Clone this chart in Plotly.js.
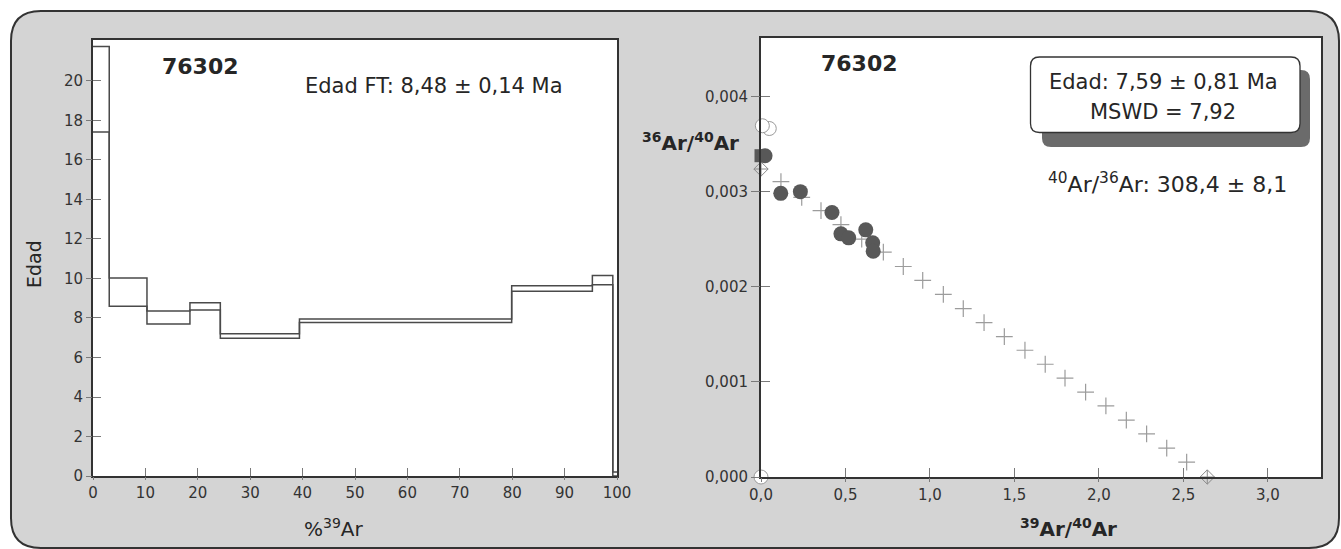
<!DOCTYPE html>
<html>
<head>
<meta charset="utf-8">
<script src="https://cdn.plot.ly/plotly-3.0.1.min.js"></script>
<style>html,body{margin:0;padding:0;background:#fff;}#chart{width:1341px;height:549px;}</style>
</head>
<body>
<div id="chart"></div>
<script>
// ---------- Data: age spectrum (left) ----------
var stepEdges  = [0, 3.1, 10.3, 18.5, 24.3, 39.4, 79.9, 95.3, 99.2, 100];
var stepUpper  = [21.75, 10.03, 8.35, 8.77, 7.2, 7.95, 9.63, 10.15, 0.2];
var stepLower  = [17.42, 8.6, 7.7, 8.4, 6.98, 7.77, 9.36, 9.68, 0.0];
var leftXTicks = [0, 10, 20, 30, 40, 50, 60, 70, 80, 90, 100];
var leftYTicks = [0, 2, 4, 6, 8, 10, 12, 14, 16, 18, 20];

// ---------- Data: isochron (right) ----------
var crossX = [0.118, 0.241, 0.355, 0.473, 0.596, 0.724, 0.842, 0.957, 1.079, 1.197, 1.320,
              1.440, 1.562, 1.682, 1.799, 1.921, 2.041, 2.162, 2.282, 2.401, 2.519];
var crossY = [0.003106, 0.002941, 0.002802, 0.002655, 0.002501, 0.002364, 0.002214, 0.002067,
              0.001920, 0.001770, 0.001623, 0.001476, 0.001333, 0.001186, 0.001039, 0.000892,
              0.000748, 0.000598, 0.000454, 0.000304, 0.000157];
var interceptX = [0.0, 2.641];
var interceptY = [0.003239, 0.0];
var filledX = [0.024, 0.117, 0.233, 0.420, 0.473, 0.519, 0.620, 0.661, 0.664];
var filledY = [0.003379, 0.002983, 0.003001, 0.002781, 0.002557, 0.002515, 0.002599, 0.002463, 0.002375];
var squareX = [0.0];
var squareY = [0.003379];
var openX = [0.049, 0.008, 0.0];
var openY = [0.003665, 0.003694, 0.0];
var rightXTicks = [0, 0.5, 1.0, 1.5, 2.0, 2.5, 3.0];
var rightYTicks = [0, 0.001, 0.002, 0.003, 0.004];

var sampleLabel = '76302';
var ftAgeText = 'Edad FT: 8,48 ± 0,14 Ma';
var isoAgeText = 'Edad: 7,59 ± 0,81 Ma';
var mswdText = 'MSWD = 7,92';
var ratioText = '<sup>40</sup>Ar/<sup>36</sup>Ar: 308,4 ± 8,1';

// ---------- helpers ----------
var W = 1341, H = 549;
function px(x){ return x / W; }
function py(y){ return 1 - y / H; }
function rr(x0, y0, x1, y1, r){
  function P(x, y){ return px(x).toFixed(5) + ',' + py(y).toFixed(5); }
  return 'M' + P(x0 + r, y0) + ' L' + P(x1 - r, y0) + ' Q' + P(x1, y0) + ' ' + P(x1, y0 + r) +
         ' L' + P(x1, y1 - r) + ' Q' + P(x1, y1) + ' ' + P(x1 - r, y1) +
         ' L' + P(x0 + r, y1) + ' Q' + P(x0, y1) + ' ' + P(x0, y1 - r) +
         ' L' + P(x0, y0 + r) + ' Q' + P(x0, y0) + ' ' + P(x0 + r, y0) + ' Z';
}
function stepTrace(vals){
  return {
    x: stepEdges.slice(),
    y: vals.concat([vals[vals.length - 1]]),
    type: 'scatter', mode: 'lines', line: {shape: 'hv', color: '#4a4a4a', width: 1.5},
    xaxis: 'x', yaxis: 'y', hoverinfo: 'skip', showlegend: false
  };
}

var FONT = 'DejaVu Sans, Verdana, sans-serif';
var TXT = '#262626';

var traces = [
  stepTrace(stepUpper),
  stepTrace(stepLower),
  {x: [], y: [], xaxis: 'x3', yaxis: 'y3', type: 'scatter', mode: 'markers', showlegend: false, hoverinfo: 'skip'},
  {x: crossX, y: crossY, xaxis: 'x2', yaxis: 'y2', type: 'scatter', mode: 'markers', cliponaxis: false,
   marker: {symbol: 'cross-thin-open', size: 12, color: '#9c9c9c', line: {color: '#9c9c9c', width: 1.2}}, showlegend: false},
  {x: interceptX, y: interceptY, xaxis: 'x2', yaxis: 'y2', type: 'scatter', mode: 'markers', cliponaxis: false,
   marker: {symbol: 'diamond-cross-open', size: 11, color: '#8a8a8a', line: {color: '#8a8a8a', width: 1}}, showlegend: false},
  {x: squareX, y: squareY, xaxis: 'x2', yaxis: 'y2', type: 'scatter', mode: 'markers', cliponaxis: false,
   marker: {symbol: 'square', size: 13, color: '#585858'}, showlegend: false},
  {x: filledX, y: filledY, xaxis: 'x2', yaxis: 'y2', type: 'scatter', mode: 'markers', cliponaxis: false,
   marker: {symbol: 'circle', size: 15, color: '#585858', line: {width: 0}}, showlegend: false},
  {x: openX, y: openY, xaxis: 'x2', yaxis: 'y2', type: 'scatter', mode: 'markers', cliponaxis: false,
   marker: {symbol: 'circle', size: 14, color: '#ffffff', line: {color: '#9a9a9a', width: 1}}, showlegend: false},
  {x: [], y: [], xaxis: 'x4', yaxis: 'y4', type: 'scatter', mode: 'markers', showlegend: false, hoverinfo: 'skip'}
];

var leftX = [px(93), px(617)];
var rightX = [px(761), px(1321)];
var leftY = [py(476), py(39.5)];
var rightY = [py(477), py(37.7)];
var tickFont = {family: FONT, size: 15, color: '#333'};

function mainAxis(anchor, dom, range, vals, len){
  return {anchor: anchor, domain: dom, range: range, tickmode: 'array', tickvals: vals,
          ticks: 'inside', ticklen: len, tickwidth: 1,
          tickcolor: '#7a7a7a', showticklabels: false, showgrid: false, zeroline: false,
          showline: true, mirror: true, linecolor: '#333', linewidth: 2, fixedrange: true};
}
function overAxis(over, anchor, range, vals, len, fmt, side){
  return {overlaying: over, anchor: anchor, side: side, range: range, tickmode: 'array', tickvals: vals,
          ticks: 'outside', ticklen: len, tickwidth: 1, tickcolor: '#7a7a7a', tickfont: tickFont, tickformat: fmt,
          showgrid: false, zeroline: false, showline: false, fixedrange: true};
}

var layout = {
  width: W, height: H, margin: {l: 0, r: 0, t: 0, b: 0, pad: 0},
  paper_bgcolor: '#d4d4d4', plot_bgcolor: '#ffffff', separators: ',.',
  font: {family: FONT, color: TXT},
  showlegend: false,
  xaxis: mainAxis('y', leftX, [0, 100], leftXTicks, 8),
  yaxis: mainAxis('x', leftY, [0, 22.1], leftYTicks, 8),
  xaxis3: overAxis('x', 'y3', [0, 100], leftXTicks, 3, 'd', 'bottom'),
  yaxis3: overAxis('y', 'x3', [0, 22.1], leftYTicks, 6, 'd', 'left'),
  xaxis2: mainAxis('y2', rightX, [0, 3.314], rightXTicks, 9),
  yaxis2: mainAxis('x2', rightY, [0, 0.00462], rightYTicks, 9),
  xaxis4: overAxis('x2', 'y4', [0, 3.314], rightXTicks, 4, '.1f', 'bottom'),
  yaxis4: overAxis('y2', 'x4', [0, 0.00462], rightYTicks, 9, '.3f', 'left'),
  shapes: [
    {type: 'path', xref: 'paper', yref: 'paper', layer: 'above', fillrule: 'evenodd',
     path: 'M0,0 L1,0 L1,1 L0,1 Z ' + rr(11, 11, 1339, 548, 30),
     fillcolor: '#ffffff', line: {width: 0}},
    {type: 'path', xref: 'paper', yref: 'paper', layer: 'above', path: rr(11, 11, 1339, 548, 30),
     fillcolor: 'rgba(0,0,0,0)', line: {color: '#333', width: 2}},
    {type: 'path', xref: 'paper', yref: 'paper', layer: 'above', path: rr(1042, 70, 1310, 147, 9),
     fillcolor: '#6b6b6b', line: {width: 0}},
    {type: 'path', xref: 'paper', yref: 'paper', layer: 'above', path: rr(1030.5, 57, 1300, 132.5, 9),
     fillcolor: '#ffffff', line: {color: '#333', width: 1.3}}
  ],
  annotations: [
    {xref: 'paper', yref: 'paper', x: px(201), y: py(66), text: '<b>' + sampleLabel + '</b>', showarrow: false,
     xanchor: 'center', yanchor: 'middle', font: {size: 22, color: TXT}},
    {xref: 'paper', yref: 'paper', x: px(303), y: py(86), text: ftAgeText, showarrow: false,
     xanchor: 'left', yanchor: 'middle', font: {size: 21, color: TXT}},
    {xref: 'paper', yref: 'paper', x: px(34), y: py(264), text: 'Edad', textangle: -90, showarrow: false,
     xanchor: 'center', yanchor: 'middle', font: {size: 19, color: TXT}},
    {xref: 'paper', yref: 'paper', x: px(334), y: py(528), text: '%<sup>39</sup>Ar', showarrow: false,
     xanchor: 'center', yanchor: 'middle', font: {size: 20, color: TXT}},
    {xref: 'paper', yref: 'paper', x: px(859), y: py(63), text: '<b>' + sampleLabel + '</b>', showarrow: false,
     xanchor: 'center', yanchor: 'middle', font: {size: 22, color: TXT}},
    {xref: 'paper', yref: 'paper', x: px(1163), y: py(82), text: isoAgeText, showarrow: false,
     xanchor: 'center', yanchor: 'middle', font: {size: 21, color: TXT}},
    {xref: 'paper', yref: 'paper', x: px(1163), y: py(112), text: mswdText, showarrow: false,
     xanchor: 'center', yanchor: 'middle', font: {size: 21, color: TXT}},
    {xref: 'paper', yref: 'paper', x: px(1167), y: py(183), text: ratioText, showarrow: false,
     xanchor: 'center', yanchor: 'middle', font: {size: 22, color: TXT}},
    {xref: 'paper', yref: 'paper', x: px(690), y: py(142), text: '<b><sup>36</sup>Ar/<sup>40</sup>Ar</b>', showarrow: false,
     xanchor: 'center', yanchor: 'middle', font: {size: 20, color: TXT}},
    {xref: 'paper', yref: 'paper', x: px(1068), y: py(528), text: '<b><sup>39</sup>Ar/<sup>40</sup>Ar</b>', showarrow: false,
     xanchor: 'center', yanchor: 'middle', font: {size: 20, color: TXT}}
  ]
};

Plotly.newPlot('chart', traces, layout, {displayModeBar: false, staticPlot: true});
</script>
</body>
</html>
